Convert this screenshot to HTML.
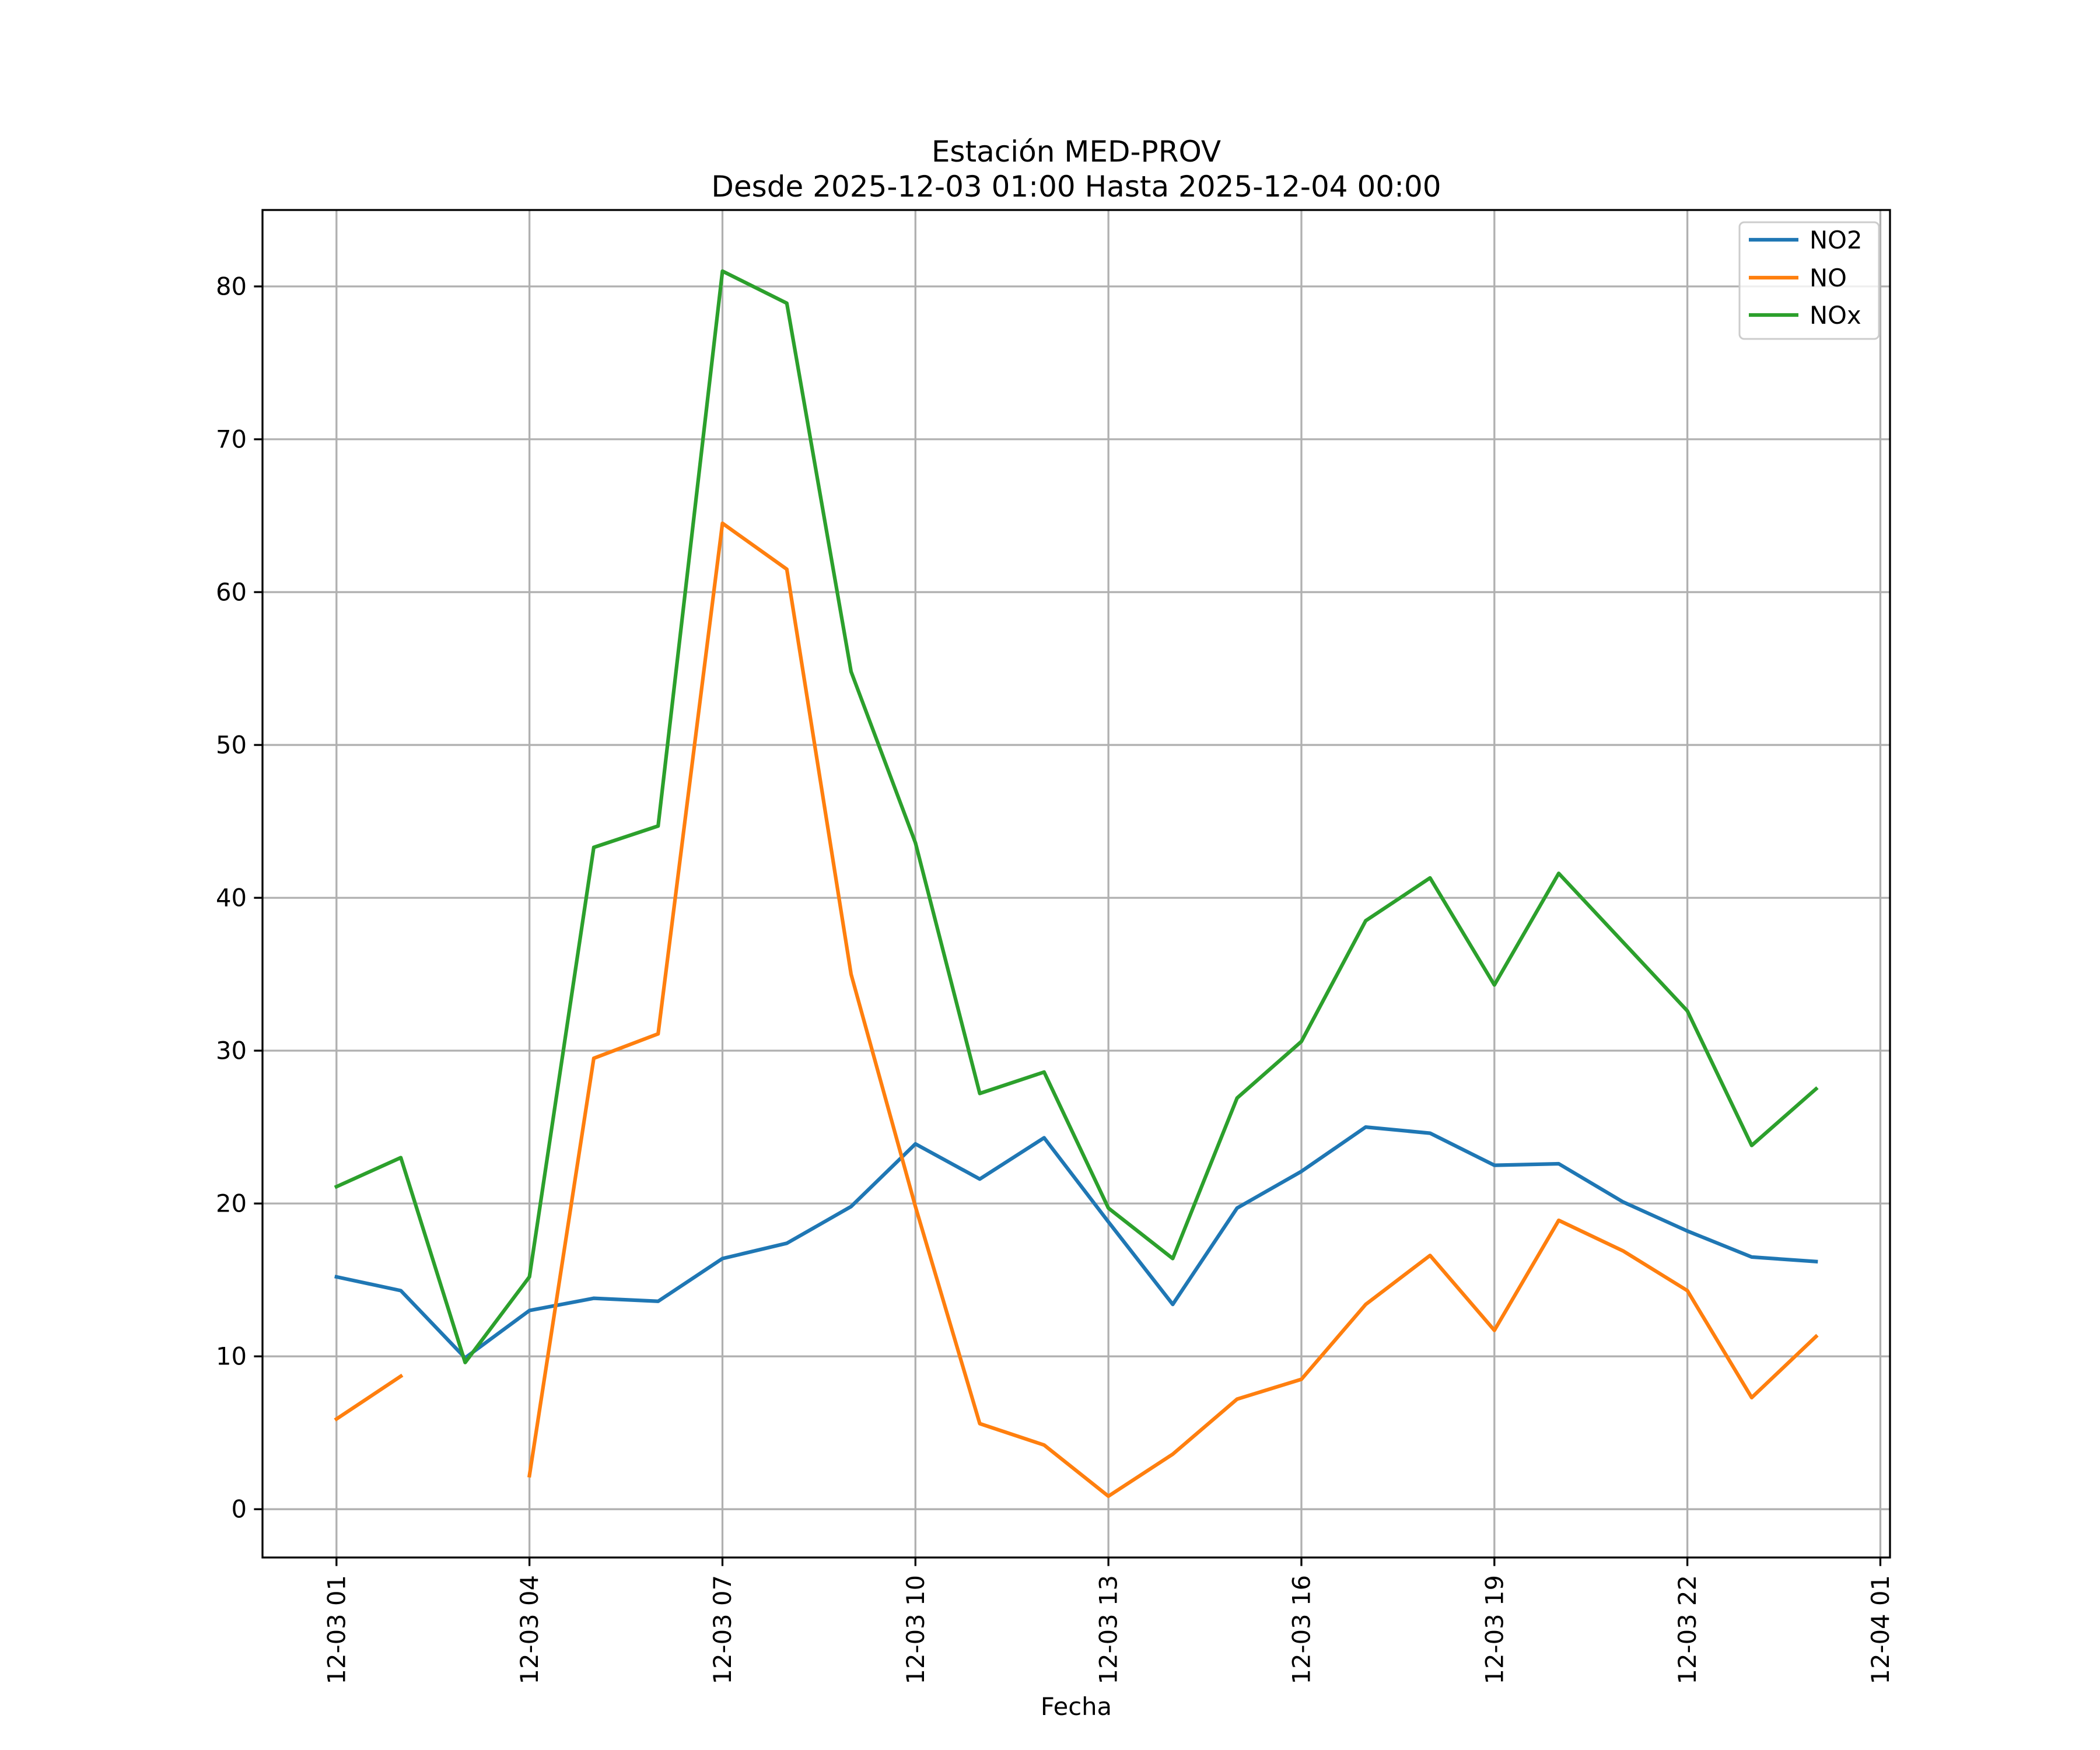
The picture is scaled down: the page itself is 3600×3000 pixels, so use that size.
<!DOCTYPE html>
<html><head><meta charset="utf-8"><style>
html,body{margin:0;padding:0;background:#fff}
svg{display:block;font-family:"DejaVu Sans","Liberation Sans",sans-serif}
</style></head><body>
<svg id="chart" width="3600" height="3000" viewBox="0 0 3600 3000">
<rect width="3600" height="3000" fill="#fff"/>
<g id="grid"></g>
<g id="series"></g>
<rect x="450" y="360" width="2790" height="2310" fill="none" stroke="#000" stroke-width="3.3"/>
<g id="ticks"></g>
<text x="1845" y="277" font-size="50" text-anchor="middle">Estación MED-PROV</text>
<text x="1845" y="337" font-size="50" text-anchor="middle">Desde 2025-12-03 01:00 Hasta 2025-12-04 00:00</text>
<text x="1845" y="2940" font-size="41.7" text-anchor="middle">Fecha</text>
<g>
<rect x="2982" y="381" width="239" height="200" rx="8" fill="#fff" fill-opacity="0.8" stroke="#ccc" stroke-width="3"/>
<line x1="2998" y1="411" x2="3083" y2="411" stroke="#1f77b4" stroke-width="6.25"/>
<text x="3102" y="426" font-size="41.7">NO2</text>
<line x1="2998" y1="476" x2="3083" y2="476" stroke="#ff7f0e" stroke-width="6.25"/>
<text x="3102" y="491" font-size="41.7">NO</text>
<line x1="2998" y1="540" x2="3083" y2="540" stroke="#2ca02c" stroke-width="6.25"/>
<text x="3102" y="555" font-size="41.7">NOx</text>
</g>
</svg>
<script>
const hours = [1,2,3,4,5,6,7,8,9,10,11,12,13,14,15,16,17,18,19,20,21,22,23,24];
const no2 = [15.2,14.3,9.9,13.0,13.8,13.6,16.4,17.4,19.8,23.9,21.6,24.3,18.8,13.4,19.7,22.1,25.0,24.6,22.5,22.6,20.1,18.2,16.5,16.2];
const no = [5.9,8.7,null,2.2,29.5,31.1,64.5,61.5,35.0,19.8,5.6,4.2,0.85,3.6,7.2,8.5,13.4,16.6,11.7,18.9,16.9,14.3,7.3,11.3];
const nox = [21.1,23.0,9.6,15.2,43.3,44.7,81.0,78.9,54.8,43.6,27.2,28.6,19.7,16.4,26.9,30.6,38.5,41.3,34.3,41.6,37.1,32.6,23.8,27.5];
const xTickHours = [1,4,7,10,13,16,19,22,25];
const xTickLabels = ["12-03 01","12-03 04","12-03 07","12-03 10","12-03 13","12-03 16","12-03 19","12-03 22","12-04 01"];
const yTicks = [0,10,20,30,40,50,60,70,80];

const NS="http://www.w3.org/2000/svg";
const L=450,R=3240,T=360,B=2670;
const xmin=-0.15,xmax=25.15,ymin=-3.16,ymax=85.0;
const xs=h=>L+(h-xmin)/(xmax-xmin)*(R-L);
const ys=v=>B-(v-ymin)/(ymax-ymin)*(B-T);
function mk(tag,attrs,parent){const e=document.createElementNS(NS,tag);for(const k in attrs)e.setAttribute(k,attrs[k]);parent.appendChild(e);return e;}
const grid=document.getElementById('grid'),ticks=document.getElementById('ticks'),series=document.getElementById('series');
xTickHours.forEach((h,i)=>{
  const x=xs(h);
  const g=mk('line',{x1:x,x2:x,y1:T,y2:B,stroke:'#b0b0b0','stroke-width':3.3},grid);
  
  
  const t=mk('line',{x1:x,x2:x,y1:B,y2:B+14.6,stroke:'#000','stroke-width':3.3},ticks);
  
  
  const lb=mk('text',{x:0,y:0,'font-size':41.7,'text-anchor':'end','dominant-baseline':'central',transform:`translate(${x},2700) rotate(-90)`},ticks);
  lb.textContent=xTickLabels[i];
  
  
});
yTicks.forEach(v=>{
  const y=ys(v);
  const g=mk('line',{x1:L,x2:R,y1:y,y2:y,stroke:'#b0b0b0','stroke-width':3.3},grid);
  
  
  const t=mk('line',{x1:L-14.6,x2:L,y1:y,y2:y,stroke:'#000','stroke-width':3.3},ticks);
  
  
  const lb=mk('text',{x:423,y:y,'font-size':41.7,'text-anchor':'end','dominant-baseline':'central'},ticks);
  lb.textContent=v;
  
  
});
function drawSeries(vals,color,name){
  let d='',pen=false;
  vals.forEach((v,i)=>{
    if(v===null){pen=false;return;}
    d+=(pen?'L':'M')+xs(hours[i]).toFixed(1)+','+ys(v).toFixed(1);
    pen=true;
  });
  const p=mk('path',{d:d,fill:'none',stroke:color,'stroke-width':6.25,'stroke-linejoin':'round','stroke-linecap':'square'},series);
  
  
}
drawSeries(no2,'#1f77b4','no2-line');
drawSeries(no,'#ff7f0e','no-line');
drawSeries(nox,'#2ca02c','nox-line');
</script>
</body></html>
